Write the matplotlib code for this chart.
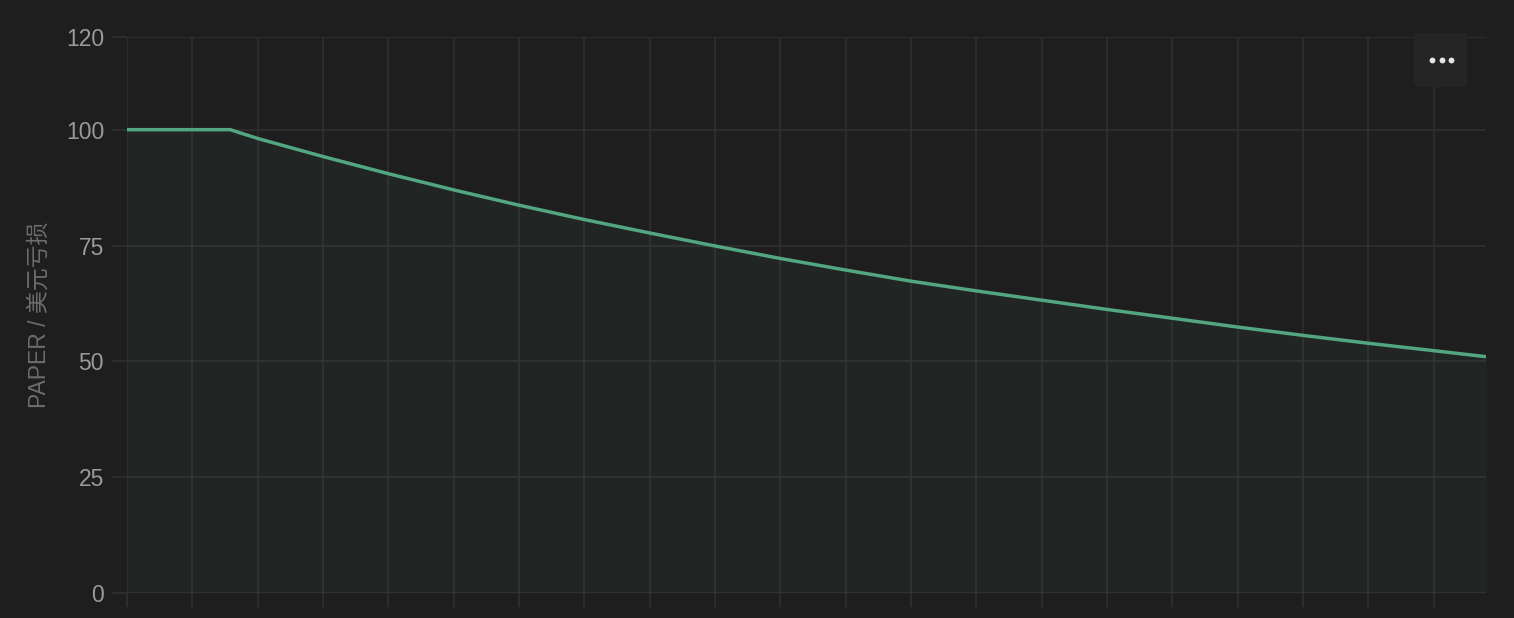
import matplotlib.pyplot as plt
from matplotlib.patches import FancyBboxPatch

# values (x in grid-step units)
steps = [0, 1.58, 2, 3, 4, 5, 6, 7, 8, 9, 10, 11, 12, 13, 14, 15, 16, 17, 18, 19, 20, 20.8]
loss = [100, 100, 98.1, 94.2, 90.5, 87.0, 83.7, 80.6, 77.7, 74.9, 72.2, 69.7, 67.3,
        65.2, 63.2, 61.2, 59.3, 57.4, 55.6, 53.9, 52.3, 51.0]
y_ticks = [0, 25, 50, 75, 100, 120]
x_ticks = list(range(0, 21))

BG = '#1e1e1e'
GRID = '#2f2f2f'
LINE = '#52a680'
TEXT = '#9a9a9a'

plt.rcParams['font.family'] = ['Liberation Sans', 'Noto Sans CJK SC', 'DejaVu Sans']

fig = plt.figure(figsize=(15.14, 6.18), dpi=100, facecolor=BG)
ax = fig.add_axes([127 / 1514, 25 / 618, (1486 - 127) / 1514, (593 - 37) / 618])
ax.set_facecolor(BG)

ax.fill_between(steps, loss, 0, color=LINE, alpha=0.06, linewidth=0)
ax.plot(steps, loss, color=LINE, linewidth=2.5, solid_capstyle='butt',
        solid_joinstyle='round', zorder=3)

ax.set_xlim(0, 20.8)
ax.set_ylim(0, 120)
ax.set_yticks(y_ticks)
ax.set_xticks(x_ticks)
ax.set_xticklabels([])
ax.grid(True, color=GRID, linewidth=1.2)
ax.set_axisbelow(True)
for s in ax.spines.values():
    s.set_visible(False)
ax.tick_params(axis='y', length=11, width=1.2, color=GRID, labelcolor=TEXT,
               labelsize=16.5, pad=5.5)
ax.tick_params(axis='x', length=10, width=1.2, color=GRID)
ax.set_ylabel('PAPER / 美元亏损', color='#6c6c6c', fontsize=16.5, labelpad=11)

# the "..." menu button in the top right corner
btn = FancyBboxPatch((1414 / 1514, (618 - 87) / 618), 53 / 1514, 54 / 618,
                     boxstyle='round,pad=0,rounding_size=0.005',
                     transform=fig.transFigure, facecolor='#252525',
                     edgecolor='none', zorder=5)
fig.patches.append(btn)
dots_x = [1432 / 1514, 1441.5 / 1514, 1451 / 1514]
fig.lines.append(plt.Line2D(dots_x, [(618 - 60) / 618] * 3, transform=fig.transFigure,
                            linestyle='none', marker='o', markersize=4.2,
                            markerfacecolor='#e6e6e6', markeredgewidth=0, zorder=6))

fig.savefig('out.png', dpi=100, facecolor=BG)
